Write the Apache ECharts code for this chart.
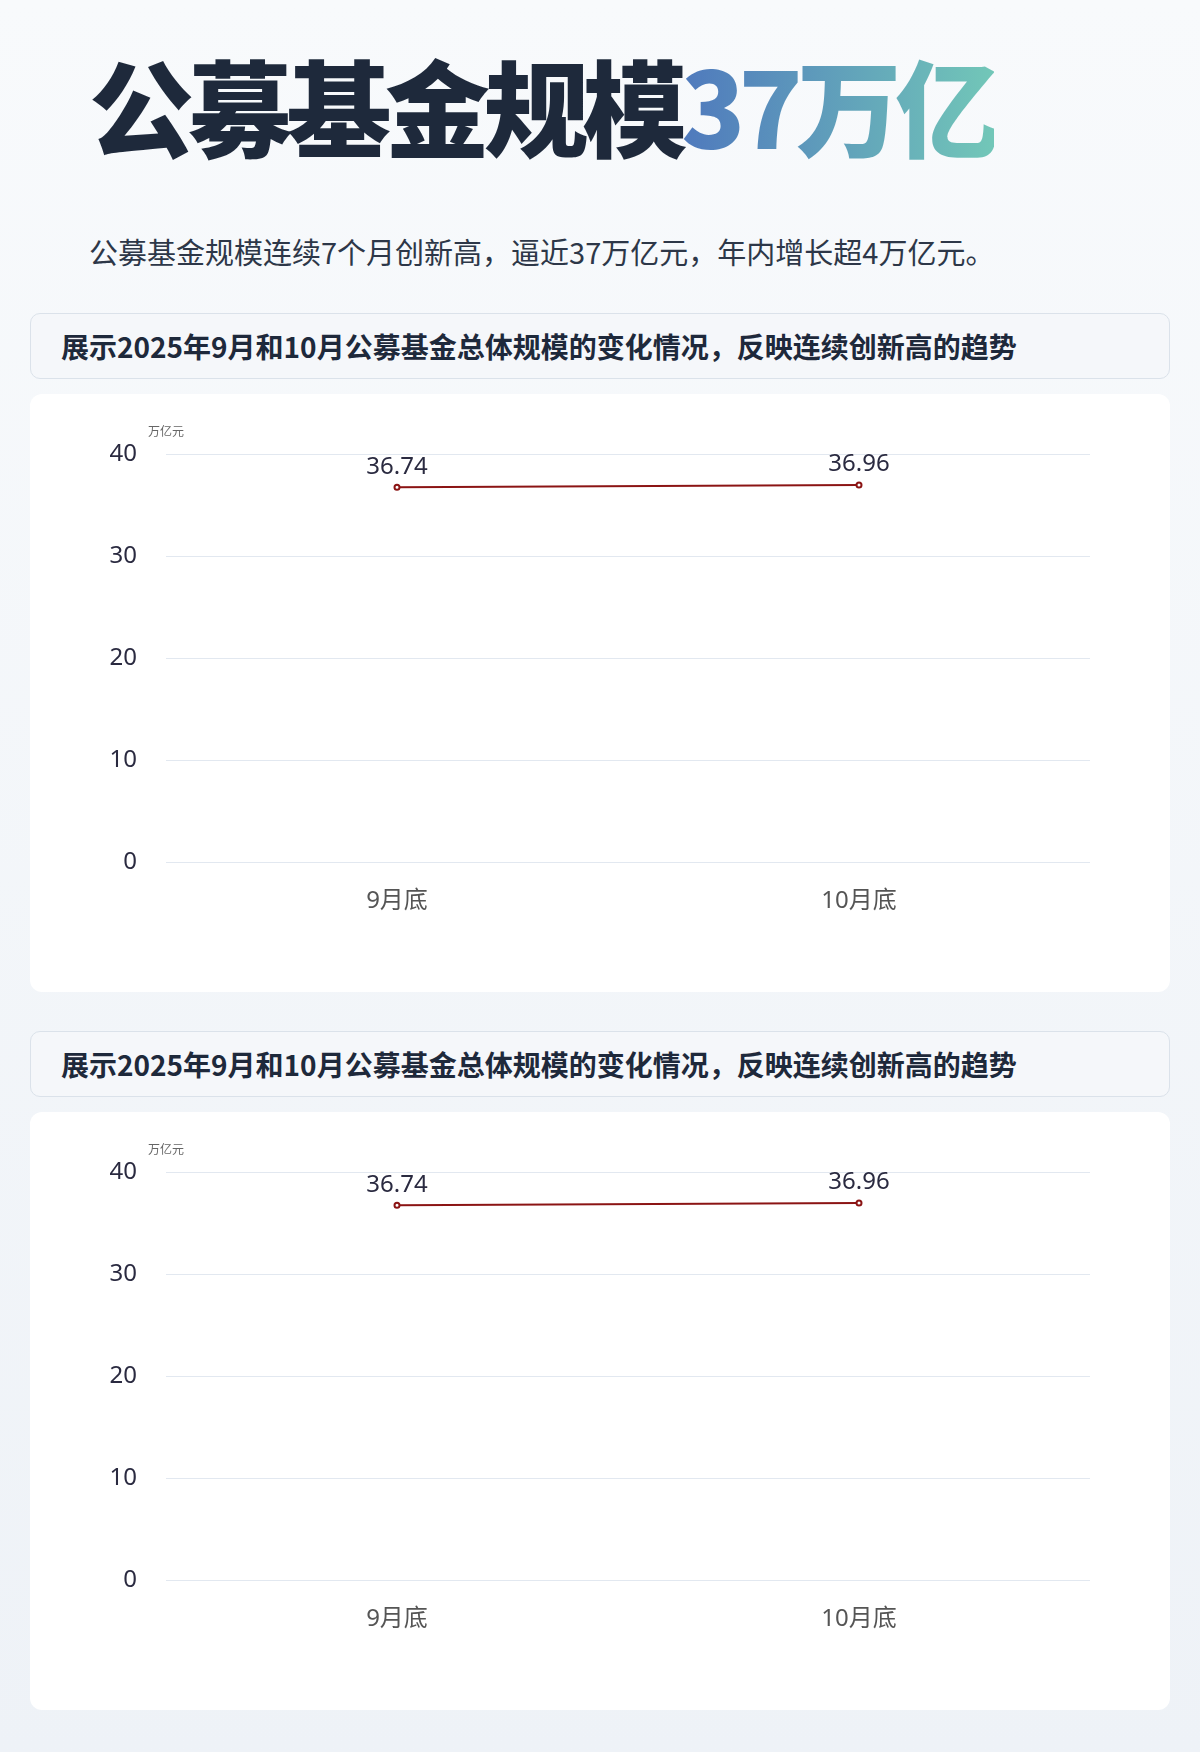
<!DOCTYPE html>
<html lang="zh-CN">
<head>
<meta charset="utf-8">
<script src="https://cdn.jsdelivr.net/npm/echarts@6/dist/echarts.min.js"></script>
<style>
  html, body { margin: 0; padding: 0; }
  body {
    width: 1200px; height: 1752px; position: relative; overflow: hidden;
    background: linear-gradient(180deg, #f8fafc 0%, #eef2f7 100%);
    font-family: "Noto Sans", "Noto Sans CJK SC", sans-serif;
  }
  .title {
    position: absolute; left: 89px; top: 38px;
    font-family: "Noto Sans CJK SC", "Noto Sans", sans-serif;
    font-size: 105px; line-height: 130px; font-weight: 900;
    color: #1e293b; white-space: nowrap; letter-spacing: -6.3px;
  }
  .title .grad {
    background: linear-gradient(90deg, #4f79bd 0%, #72c7b8 100%);
    -webkit-background-clip: text; background-clip: text;
    -webkit-text-fill-color: transparent; color: transparent;
  }
  .subtitle {
    position: absolute; left: 89px; top: 231px;
    font-family: "Noto Sans CJK SC", "Noto Sans", sans-serif;
    font-size: 29px; line-height: 40px; color: #2d3748; white-space: nowrap;
  }
  .hdr {
    position: absolute; left: 30px; width: 1138px; height: 64px;
    background: #f5f7fa; border: 1px solid #dbe2ea; border-radius: 10px;
    box-sizing: content-box;
  }
  .hdr span {
    position: absolute; left: 30px; top: 0; line-height: 64px;
    font-family: "Noto Sans CJK SC", "Noto Sans", sans-serif;
    font-size: 28px; font-weight: 700; color: #1e293b; white-space: nowrap;
  }
  .card {
    position: absolute; left: 30px; width: 1140px; height: 598px;
    background: #ffffff; border-radius: 12px;
  }
</style>
</head>
<body>
<div class="title">公募基金规模<span class="grad">37万亿</span></div>
<div class="subtitle">公募基金规模连续7个月创新高，逼近37万亿元，年内增长超4万亿元。</div>

<div class="hdr" style="top:313px;"><span>展示2025年9月和10月公募基金总体规模的变化情况，反映连续创新高的趋势</span></div>
<div class="card" id="c1" style="top:394px;"></div>

<div class="hdr" style="top:1031px;"><span>展示2025年9月和10月公募基金总体规模的变化情况，反映连续创新高的趋势</span></div>
<div class="card" id="c2" style="top:1112px;"></div>

<script>
const categories = ["9月底", "10月底"];
const fundSize = [36.74, 36.96];
const yTicks = [0, 10, 20, 30, 40];
const unitName = "万亿元";

function buildOption() {
  return {
    animation: false,
    textStyle: { fontFamily: '"Noto Sans", "Noto Sans CJK SC", sans-serif' },
    grid: { left: 136, right: 80, top: 60, bottom: 130 },
    xAxis: {
      type: 'category',
      data: categories,
      boundaryGap: true,
      axisLine: { show: false },
      axisTick: { show: false },
      axisLabel: { fontSize: 24, color: '#555555', margin: 27 }
    },
    yAxis: {
      type: 'value',
      min: yTicks[0],
      max: yTicks[yTicks.length - 1],
      interval: yTicks[1] - yTicks[0],
      name: unitName,
      nameTextStyle: { fontSize: 12, color: '#666666' },
      nameGap: 15,
      axisLine: { show: false },
      axisTick: { show: false },
      axisLabel: { fontSize: 24, color: '#2a2a40', margin: 29, padding: [0, 0, 5, 0] },
      splitLine: { lineStyle: { color: '#e2e8f0', width: 1 } }
    },
    series: [{
      type: 'line',
      data: fundSize,
      color: '#8b1414',
      lineStyle: { width: 2, color: '#8b1414' },
      symbol: 'emptyCircle',
      symbolSize: 5,
      itemStyle: { color: '#8b1414', borderWidth: 1.5 },
      label: {
        show: true, position: 'top', distance: 5,
        fontSize: 24, color: '#2a2a40'
      }
    }]
  };
}

['c1', 'c2'].forEach(id => {
  const chart = echarts.init(document.getElementById(id), null, { renderer: 'canvas' });
  chart.setOption(buildOption());
});
</script>
</body>
</html>
